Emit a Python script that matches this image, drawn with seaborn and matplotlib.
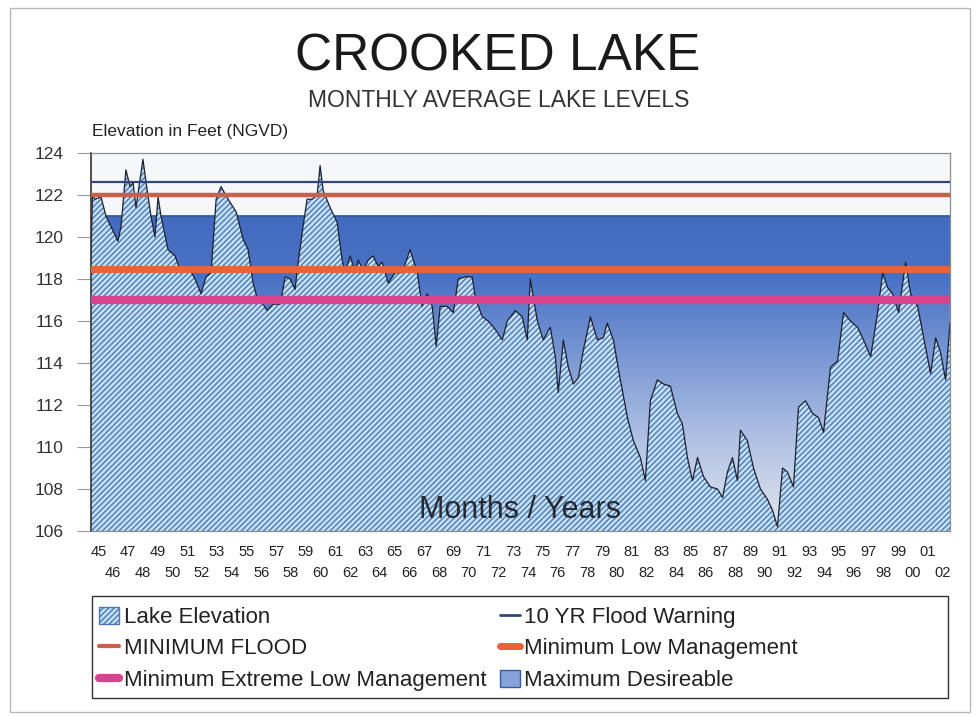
import numpy as np
import matplotlib.pyplot as plt
import matplotlib.colors as mcolors
from matplotlib.patches import Patch, Rectangle
from matplotlib.lines import Line2D
import seaborn as sns

# Lake level (decimal year, feet NGVD)
years = [
    1945.00, 1945.10, 1945.25, 1945.68, 1946.01, 1946.35, 1946.82, 1947.03, 1947.36, 1947.64,
    1947.84, 1948.04, 1948.51, 1948.72, 1949.05, 1949.32, 1949.53, 1949.73, 1950.20, 1950.68,
    1951.08, 1951.55, 1952.03, 1952.43, 1952.77, 1953.11, 1953.45, 1953.78, 1954.26, 1954.80,
    1955.27, 1955.61, 1955.95, 1956.22, 1956.62, 1956.89, 1957.30, 1957.77, 1958.11, 1958.45,
    1958.78, 1958.99, 1959.26, 1959.59, 1959.93, 1960.27, 1960.47, 1960.68, 1961.15, 1961.62,
    1961.96, 1962.16, 1962.50, 1962.84, 1963.04, 1963.38, 1963.72, 1964.05, 1964.39, 1964.66,
    1965.07, 1965.54, 1966.01, 1966.55, 1967.03, 1967.36, 1967.70, 1968.04, 1968.31, 1968.58,
    1969.05, 1969.46, 1969.80, 1970.27, 1970.74, 1970.95, 1971.42, 1971.82, 1972.30, 1972.77,
    1973.11, 1973.65, 1974.12, 1974.46, 1974.66, 1975.14, 1975.54, 1976.01, 1976.35, 1976.55,
    1976.89, 1977.23, 1977.57, 1977.91, 1978.24, 1978.72, 1979.19, 1979.59, 1979.86, 1980.27,
    1980.74, 1981.22, 1981.62, 1982.09, 1982.43, 1982.77, 1983.24, 1983.65, 1984.12, 1984.59,
    1984.93, 1985.27, 1985.61, 1985.95, 1986.35, 1986.82, 1987.30, 1987.64, 1987.97, 1988.31,
    1988.65, 1988.85, 1989.32, 1989.73, 1990.20, 1990.68, 1991.01, 1991.35, 1991.69, 1992.03,
    1992.43, 1992.77, 1993.24, 1993.72, 1994.12, 1994.46, 1994.93, 1995.41, 1995.81, 1996.28,
    1996.76, 1997.16, 1997.64, 1998.11, 1998.45, 1998.78, 1999.12, 1999.53, 2000.00, 2000.34,
    2000.81, 2001.22, 2001.69, 2002.03, 2002.36, 2002.70, 2003.00,
]
elevation = [
    118.8, 122.0, 121.8, 121.9, 121.0, 120.5, 119.8, 120.5, 123.2, 122.4,
    122.6, 121.4, 123.7, 122.6, 121.0, 120.0, 121.9, 121.0, 119.4, 119.1,
    118.3, 118.6, 118.0, 117.3, 118.1, 118.3, 121.8, 122.4, 121.8, 121.2,
    119.9, 119.4, 117.8, 117.1, 116.8, 116.5, 116.8, 116.8, 118.1, 118.0,
    117.5, 118.8, 120.2, 121.8, 121.8, 122.0, 123.4, 122.2, 121.4, 120.7,
    118.9, 118.3, 119.1, 118.3, 118.9, 118.4, 118.9, 119.1, 118.6, 118.8,
    117.8, 118.3, 118.3, 119.4, 118.3, 116.7, 117.3, 116.7, 114.8, 116.7,
    116.7, 116.4, 118.0, 118.1, 118.1, 117.1, 116.2, 116.0, 115.6, 115.1,
    116.0, 116.5, 116.2, 115.1, 118.0, 116.0, 115.1, 115.7, 114.3, 112.6,
    115.1, 113.8, 113.0, 113.3, 114.6, 116.2, 115.1, 115.2, 115.9, 115.1,
    113.2, 111.4, 110.3, 109.5, 108.4, 112.2, 113.2, 113.0, 112.9, 111.6,
    111.1, 109.5, 108.4, 109.5, 108.6, 108.1, 108.0, 107.6, 108.8, 109.5,
    108.4, 110.8, 110.3, 109.0, 108.0, 107.5, 107.0, 106.2, 109.0, 108.8,
    108.1, 111.9, 112.2, 111.6, 111.4, 110.7, 113.8, 114.1, 116.4, 116.0,
    115.7, 115.1, 114.3, 116.4, 118.3, 117.6, 117.3, 116.4, 118.8, 117.3,
    116.7, 115.2, 113.5, 115.2, 114.5, 113.2, 115.9,
]

# reference levels (feet)
flood_warning_10yr = 122.6
minimum_flood = 122.0
maximum_desireable = 121.0
min_low_management = 118.5
min_extreme_low = 117.0

y_min, y_max = 106, 124
y_ticks = list(range(106, 125, 2))
first_year, last_year = 1945, 2002
tick_years = list(range(first_year, last_year + 1))
tick_labels = [f"{y % 100:02d}" for y in tick_years]

sns.set_theme(style="white")
plt.rcParams['font.family'] = ['Liberation Sans', 'DejaVu Sans']
plt.rcParams['hatch.linewidth'] = 1.0

lake_face = '#c2e0f4'
lake_hatch = '#5179b0'
c_10yr = '#34457a'
c_flood = '#c8614c'
c_lowmgmt = '#e8623c'
c_extreme = '#d9428c'

fig = plt.figure(figsize=(9.77, 7.17), dpi=100)
fig.patches.append(Rectangle((0.0102, 0.007), 0.9826, 0.982, transform=fig.transFigure,
                             fill=False, edgecolor='#b8b8b8', linewidth=1.0))
ax = fig.add_axes([0.0931, 0.2594, 0.8793, 0.5272])
ax.set_facecolor('#f6f7fa')

# maximum desireable band with vertical gradient
grad_cmap = mcolors.LinearSegmentedColormap.from_list(
    'desire', [(0.0, '#e3e6ee'), (0.27, '#b4c4e5'), (0.53, '#7e9bd6'),
               (0.8, '#4a72c4'), (1.0, '#426abf')])
ax.imshow(np.linspace(0, 1, 256).reshape(-1, 1), extent=[first_year, last_year + 1, y_min, maximum_desireable],
          origin='lower', aspect='auto', cmap=grad_cmap, zorder=0.5)
ax.axhline(maximum_desireable, color='#3b5a9e', lw=0.8, zorder=0.6)

# lake elevation area
ax.fill_between(years, y_min, elevation, facecolor=lake_face, edgecolor=lake_hatch,
                hatch='//////', linewidth=0, zorder=1)
sns.lineplot(x=years, y=elevation, ax=ax, color='#1c1f2e', lw=0.9, estimator=None, zorder=2)

# threshold lines
ax.axhline(flood_warning_10yr, color=c_10yr, lw=1.6, zorder=3)
ax.axhline(minimum_flood, color=c_flood, lw=3.2, zorder=3)
ax.axhline(min_low_management, color=c_lowmgmt, lw=5.0, zorder=3)
ax.axhline(min_extreme_low, color=c_extreme, lw=6.0, zorder=3)

ax.set_xlim(first_year, last_year + 1)
ax.set_ylim(y_min, y_max)
ax.set_yticks(y_ticks)
ax.set_yticklabels([str(t) for t in y_ticks])
ax.tick_params(axis='y', direction='out', length=10, width=0.8, color='#999999',
               labelsize=12.5, labelcolor='#333333', pad=10, left=True)

odd = [i for i, y in enumerate(tick_years) if y % 2 == 1]
even = [i for i, y in enumerate(tick_years) if y % 2 == 0]
ax.set_xticks([tick_years[i] + 0.5 for i in odd])
ax.set_xticklabels([tick_labels[i] for i in odd])
ax.set_xticks([tick_years[i] + 0.5 for i in even], minor=True)
ax.set_xticklabels([tick_labels[i] for i in even], minor=True)
ax.tick_params(axis='x', which='major', length=0, labelsize=10.5, labelcolor='#222222', pad=10)
ax.tick_params(axis='x', which='minor', length=0, labelsize=10.5, labelcolor='#222222', pad=25.5)
ax.set_xlabel('')
ax.set_ylabel('')

for side in ['top', 'right', 'bottom']:
    ax.spines[side].set_color('#8c8c8c')
    ax.spines[side].set_linewidth(0.9)
ax.spines['left'].set_color('#333333')
ax.spines['left'].set_linewidth(1.2)

ax.text(1974.0, 107.0, 'Months / Years', ha='center', va='center', fontsize=22,
        color='#262a33', zorder=4)

fig.text(0.509, 0.921, 'CROOKED LAKE', ha='center', va='center', fontsize=37, color='#1a1a1a')
fig.text(0.51, 0.8605, 'MONTHLY AVERAGE LAKE LEVELS', ha='center', va='center', fontsize=16.5,
         color='#333333')
fig.text(0.0942, 0.816, 'Elevation in Feet (NGVD)', ha='left', va='center', fontsize=12.5,
         color='#222222')

handles = [
    Patch(facecolor=lake_face, edgecolor=lake_hatch, hatch='//////', linewidth=1),
    Line2D([], [], color=c_flood, lw=3),
    Line2D([], [], color=c_extreme, lw=6),
    Line2D([], [], color=c_10yr, lw=2),
    Line2D([], [], color=c_lowmgmt, lw=5),
    Patch(facecolor='#86a2da', edgecolor='#3b5a9e', linewidth=1),
]
labels = ['Lake Elevation', 'MINIMUM FLOOD', 'Minimum Extreme Low Management',
          '10 YR Flood Warning', 'Minimum Low Management', 'Maximum Desireable']
# legend frame drawn separately so it spans the full plot width
fig.patches.append(Rectangle((0.0942, 0.0265), 0.8762, 0.1423, transform=fig.transFigure,
                             fill=False, edgecolor='#333333', linewidth=1.0))
leg = fig.legend(handles, labels, loc='upper left', bbox_to_anchor=(0.097, 0.160),
                 ncol=2, fontsize=16, frameon=False, borderaxespad=0, borderpad=0.2,
                 handlelength=0.9, handleheight=0.8, handletextpad=0.2,
                 labelspacing=0.46, columnspacing=0.6)
for t in leg.get_texts():
    t.set_color('#222222')

fig.savefig('out.png', dpi=100, facecolor='white')
